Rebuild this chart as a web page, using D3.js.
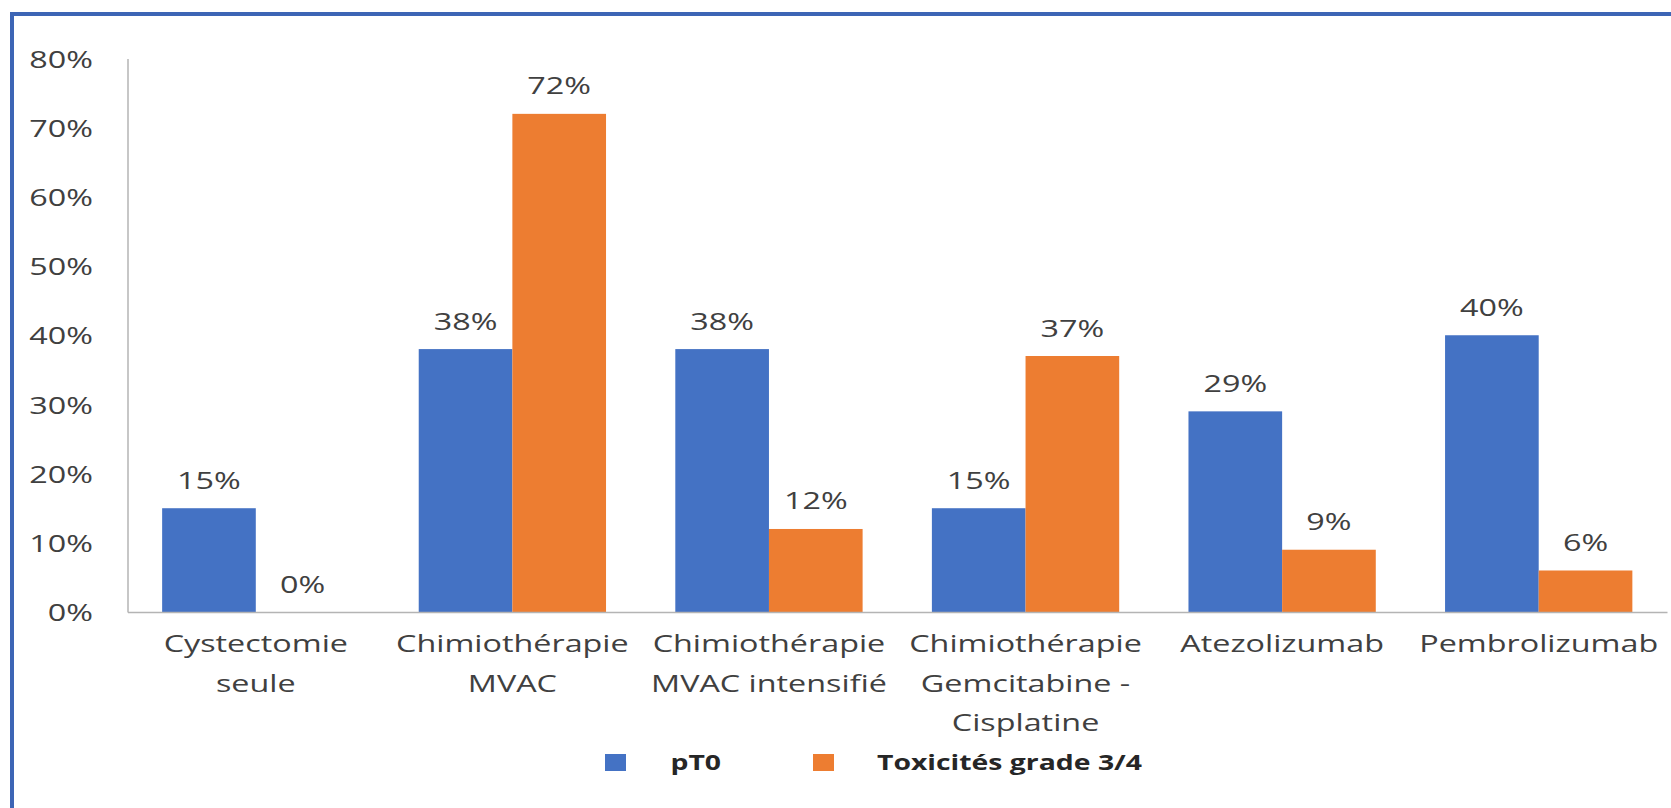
<!DOCTYPE html>
<html><head><meta charset="utf-8">
<script src="https://cdn.jsdelivr.net/npm/d3@7"></script>
<style>html,body{margin:0;padding:0;background:#fff;overflow:hidden}</style>
</head><body>
<svg id="chart" width="1671" height="808"></svg>
<script>
// ---- data ----
const categories = ["Cystectomie seule", "Chimiothérapie MVAC", "Chimiothérapie MVAC intensifié",
  "Chimiothérapie Gemcitabine - Cisplatine", "Atezolizumab", "Pembrolizumab"];
const categoryLines = [["Cystectomie", "seule"], ["Chimiothérapie", "MVAC"],
  ["Chimiothérapie", "MVAC intensifié"], ["Chimiothérapie", "Gemcitabine -", "Cisplatine"],
  ["Atezolizumab"], ["Pembrolizumab"]];
const seriesNames = ["pT0", "Toxicités grade 3/4"];
const pT0 = [0.15, 0.38, 0.38, 0.15, 0.29, 0.40];
const toxicites = [0.00, 0.72, 0.12, 0.37, 0.09, 0.06];
const yTicks = [0, 0.1, 0.2, 0.3, 0.4, 0.5, 0.6, 0.7, 0.8];
const seriesValues = [pT0, toxicites];
const colors = ["#4472C4", "#ED7D31"];

// ---- layout ----
const FONT = "'Open Sans', 'Noto Sans', sans-serif";
const FS = 24.5, SX = 1.32, TXT = "#404040";
const svg = d3.select("#chart");
svg.append("rect").attr("width", 1671).attr("height", 808).attr("fill", "#fff");
svg.append("rect").attr("x", 12).attr("y", 14).attr("width", 1800).attr("height", 1000)
  .attr("fill", "none").attr("stroke", "#3d65b5").attr("stroke-width", 4);

const plotL = 127.5, plotR = 1667, plotT = 58.5, plotB = 612;
const x0 = d3.scaleBand().domain(categories).range([plotL, plotR]).paddingInner(0.27).paddingOuter(0.135);
const x1 = d3.scaleBand().domain(seriesNames).range([0, x0.bandwidth()]);
const y = d3.scaleLinear().domain([0, 0.8]).range([plotB, plotT]);
const pct = d3.format(".0%");

// y axis
const gy = svg.append("g").attr("transform", `translate(${plotL},0)`)
  .call(d3.axisLeft(y).tickValues(yTicks).tickFormat(pct).tickSize(0).tickSizeOuter(0));
gy.select(".domain").attr("stroke", "#b4b4b4").attr("stroke-width", 1.5);
gy.selectAll(".tick text").attr("font-family", FONT).attr("font-size", FS).attr("fill", TXT)
  .attr("x", -34.5 / SX).attr("dy", "0.35em").attr("transform", `scale(${SX},1)`);

// bars
const rows = categories.map((c, i) => ({ cat: c, vals: seriesNames.map((s, j) => ({ s, j, v: seriesValues[j][i] })) }));
const groups = svg.append("g").selectAll("g").data(rows).join("g")
  .attr("transform", d => `translate(${x0(d.cat)},0)`);
groups.selectAll("rect").data(d => d.vals).join("rect")
  .attr("x", d => x1(d.s)).attr("width", x1.bandwidth())
  .attr("y", d => y(d.v)).attr("height", d => plotB - y(d.v))
  .attr("fill", d => colors[d.j]);
groups.selectAll("text").data(d => d.vals).join("text")
  .attr("transform", d => `translate(${x1(d.s) + x1.bandwidth() / 2},${y(d.v) - 19.5}) scale(${SX},1)`)
  .attr("text-anchor", "middle").attr("font-family", FONT).attr("font-size", FS).attr("fill", TXT)
  .text(d => pct(d.v));

// x axis
const gx = svg.append("g").attr("transform", `translate(0,${plotB})`)
  .call(d3.axisBottom(x0).tickSize(0).tickSizeOuter(0));
gx.select(".domain").attr("stroke", "#b4b4b4").attr("stroke-width", 1.5);
gx.selectAll(".tick text").each(function (d, i) {
  const t = d3.select(this).text(null).attr("y", 0).attr("dy", null)
    .attr("font-family", FONT).attr("font-size", FS).attr("fill", TXT)
    .attr("text-anchor", "middle").attr("transform", `scale(${SX},1)`);
  categoryLines[i].forEach((ln, k) => {
    t.append("tspan").attr("x", 0).attr("y", 40 + k * 39.6).text(ln);
  });
});

// legend
const legendX = [605, 813], legendTextX = [670.5, 877];
const lg = svg.append("g").selectAll("g").data(seriesNames).join("g");
lg.append("rect").attr("x", (d, i) => legendX[i]).attr("y", 754).attr("width", 21).attr("height", 17)
  .attr("fill", (d, i) => colors[i]);
lg.append("text").attr("transform", (d, i) => `translate(${legendTextX[i]},770) scale(${SX},1)`)
  .attr("font-family", FONT).attr("font-size", 21.5).attr("font-weight", "bold").attr("fill", "#262626")
  .text(d => d);
</script>
</body></html>
